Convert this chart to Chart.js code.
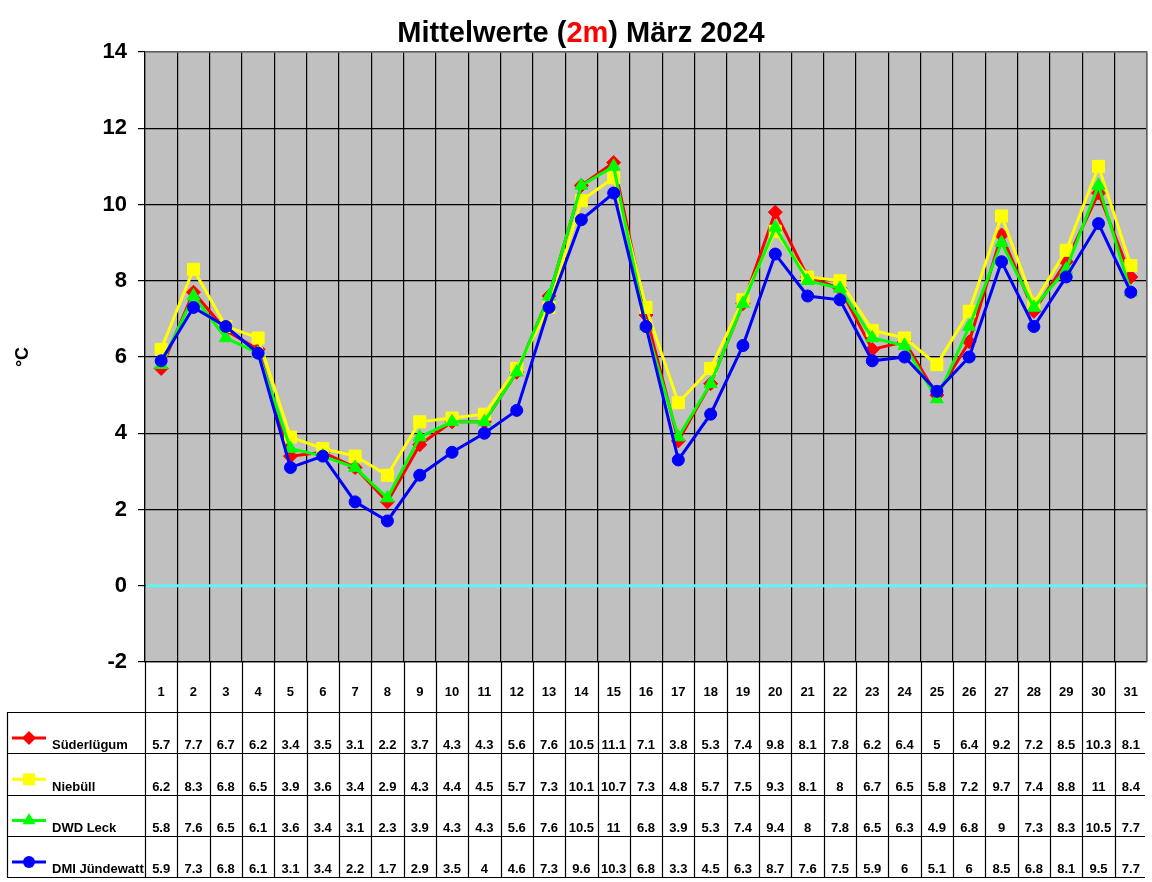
<!DOCTYPE html>
<html>
<head>
<meta charset="utf-8">
<script src="https://cdn.jsdelivr.net/npm/chart.js@4.4.1/dist/chart.umd.min.js"></script>
<style>
  html, body { margin: 0; padding: 0; background: #fff; overflow: hidden; }
  canvas { display: block; }
</style>
</head>
<body>
<canvas id="tempChart" width="1152" height="882"></canvas>
<script>
// Mittelwerte (2m) März 2024
const days = ['1','2','3','4','5','6','7','8','9','10','11','12','13','14','15','16',
  '17','18','19','20','21','22','23','24','25','26','27','28','29','30','31'];
const suederluegum = [5.7, 7.7, 6.7, 6.2, 3.4, 3.5, 3.1, 2.2, 3.7, 4.3, 4.3, 5.6, 7.6, 10.5, 11.1, 7.1,
  3.8, 5.3, 7.4, 9.8, 8.1, 7.8, 6.2, 6.4, 5, 6.4, 9.2, 7.2, 8.5, 10.3, 8.1];
const niebuell = [6.2, 8.3, 6.8, 6.5, 3.9, 3.6, 3.4, 2.9, 4.3, 4.4, 4.5, 5.7, 7.3, 10.1, 10.7, 7.3,
  4.8, 5.7, 7.5, 9.3, 8.1, 8, 6.7, 6.5, 5.8, 7.2, 9.7, 7.4, 8.8, 11, 8.4];
const dwdLeck = [5.8, 7.6, 6.5, 6.1, 3.6, 3.4, 3.1, 2.3, 3.9, 4.3, 4.3, 5.6, 7.6, 10.5, 11, 6.8,
  3.9, 5.3, 7.4, 9.4, 8, 7.8, 6.5, 6.3, 4.9, 6.8, 9, 7.3, 8.3, 10.5, 7.7];
const dmiJuendewatt = [5.9, 7.3, 6.8, 6.1, 3.1, 3.4, 2.2, 1.7, 2.9, 3.5, 4, 4.6, 7.3, 9.6, 10.3, 6.8,
  3.3, 4.5, 6.3, 8.7, 7.6, 7.5, 5.9, 6, 5.1, 6, 8.5, 6.8, 8.1, 9.5, 7.7];
const yMin = -2, yMax = 14, yStep = 2;

const FONT = '"Liberation Sans", Arial, sans-serif';

function series(label, data, color, style, radius, order) {
  return {
    label: label, data: data, order: order,
    borderColor: color, backgroundColor: color,
    borderWidth: 3,
    pointStyle: style, pointRadius: radius, pointHoverRadius: radius,
    pointBackgroundColor: color, pointBorderColor: color, pointBorderWidth: 1,
    tension: 0
  };
}

// grey plot background, grey top/right frame, cyan zero line
const plotBg = {
  id: 'plotBg',
  beforeDraw(chart) {
    const a = chart.chartArea, c = chart.ctx;
    c.save();
    c.fillStyle = '#c0c0c0';
    c.fillRect(a.left, a.top, a.right - a.left, a.bottom - a.top);
    c.restore();
  },
  beforeDatasetsDraw(chart) {
    const a = chart.chartArea, c = chart.ctx;
    const y0 = chart.scales.y.getPixelForValue(0);
    c.save();
    c.strokeStyle = '#60f4f4';
    c.lineWidth = 3;
    c.beginPath(); c.moveTo(a.left + 1, y0); c.lineTo(a.right, y0); c.stroke();
    c.strokeStyle = '#808080';
    c.lineWidth = 1.5;
    c.beginPath();
    c.moveTo(a.left, a.top); c.lineTo(a.right, a.top); c.lineTo(a.right, a.bottom);
    c.stroke();
    c.restore();
  }
};

// title with red "2m"
const titlePlugin = {
  id: 'titlePlugin',
  afterDraw(chart) {
    const c = chart.ctx;
    const parts = [['Mittelwerte (', '#000'], ['2m', '#ff0000'], [') März 2024', '#000']];
    c.save();
    c.font = 'bold 29px ' + FONT;
    c.textBaseline = 'alphabetic';
    c.textAlign = 'left';
    let total = 0;
    parts.forEach(p => { total += c.measureText(p[0]).width; });
    let x = 581 - total / 2;
    parts.forEach(p => {
      c.fillStyle = p[1];
      c.fillText(p[0], x, 42);
      x += c.measureText(p[0]).width;
    });
    c.restore();
  }
};

// data table under the plot
const tablePlugin = {
  id: 'tablePlugin',
  afterDraw(chart) {
    const c = chart.ctx, xs = chart.scales.x, a = chart.chartArea;
    const top = a.bottom, headerH = 50, rowH = 41.3;
    const left = 7, right = 1145;
    const n = days.length;
    const bounds = [];
    for (let i = 0; i <= n; i++) {
      if (i === 0) bounds.push(xs.left);
      else if (i === n) bounds.push(xs.right);
      else bounds.push((xs.getPixelForValue(i - 1) + xs.getPixelForValue(i)) / 2);
    }
    const rowsTop = top + headerH;
    const bottom = rowsTop + rowH * chart.data.datasets.length;
    c.save();
    c.strokeStyle = '#000';
    c.lineWidth = 1.2;
    c.beginPath();
    for (let i = 0; i < n; i++) {
      const bx = Math.round(bounds[i]) + 0.5;
      c.moveTo(bx, top); c.lineTo(bx, bottom);
    }
    for (let r = 0; r <= chart.data.datasets.length; r++) {
      const by = Math.round(rowsTop + r * rowH) + 0.5;
      c.moveTo(left, by); c.lineTo(right, by);
    }
    c.moveTo(left + 0.5, rowsTop); c.lineTo(left + 0.5, bottom);
    c.stroke();

    chart.data.datasets.forEach((ds, r) => {
      const rt = rowsTop + r * rowH;
      const base = rt + rowH - 4;
      // legend key
      c.strokeStyle = ds.borderColor;
      c.lineWidth = 3;
      c.beginPath(); c.moveTo(12, rt + 26); c.lineTo(46, rt + 26); c.stroke();
      c.fillStyle = ds.borderColor;
      c.strokeStyle = ds.borderColor;
      c.lineWidth = 1;
      Chart.helpers.drawPoint(c, { pointStyle: ds.pointStyle, radius: ds.pointRadius, rotation: 0 }, 29, rt + 26);
      c.fillStyle = '#000';
      c.font = 'bold 13px ' + FONT;
      c.textAlign = 'left';
      c.textBaseline = 'alphabetic';
      c.fillText(ds.label, 52, base);
      c.textAlign = 'center';
      ds.data.forEach((v, i) => {
        c.fillText(String(v), xs.getPixelForValue(i), base);
      });
    });
    c.restore();
  }
};

new Chart(document.getElementById('tempChart'), {
  type: 'line',
  data: {
    labels: days,
    datasets: [
      series('Süderlügum', suederluegum, '#ff0000', 'rectRot', 7, 4),
      series('Niebüll', niebuell, '#ffff00', 'rect', 8.5, 3),
      series('DWD Leck', dwdLeck, '#00ff00', 'triangle', 7.5, 2),
      series('DMI Jündewatt', dmiJuendewatt, '#0000ff', 'circle', 6, 1)
    ]
  },
  options: {
    responsive: false,
    devicePixelRatio: 1,
    animation: false,
    layout: { autoPadding: false, padding: { top: 52, right: 5, bottom: 0, left: 0 } },
    plugins: { legend: { display: false }, title: { display: false }, tooltip: { enabled: false } },
    scales: {
      x: {
        type: 'category',
        offset: true,
        afterFit(scale) { scale.height = 220; scale.paddingLeft = 0; scale.paddingRight = 0; },
        grid: { offset: true, color: '#000', lineWidth: 1.2, drawTicks: false },
        border: { color: '#000', width: 1.2 },
        ticks: {
          color: '#000', font: { family: FONT, size: 13, weight: 'bold' },
          padding: 23, maxRotation: 0, autoSkip: false
        }
      },
      y: {
        min: yMin, max: yMax,
        afterFit(scale) { scale.width = 145; },
        grid: { color: '#000', lineWidth: 1.2, tickLength: 7, tickColor: '#000' },
        border: { color: '#000', width: 1.2 },
        ticks: {
          stepSize: yStep, color: '#000', padding: 11,
          font: { family: FONT, size: 22, weight: 'bold' }
        },
        title: {
          display: true, text: '°C', color: '#000',
          font: { family: FONT, size: 18, weight: 'bold' },
          padding: { top: 12, bottom: 0 }
        }
      }
    }
  },
  plugins: [plotBg, titlePlugin, tablePlugin]
});
</script>
</body>
</html>
